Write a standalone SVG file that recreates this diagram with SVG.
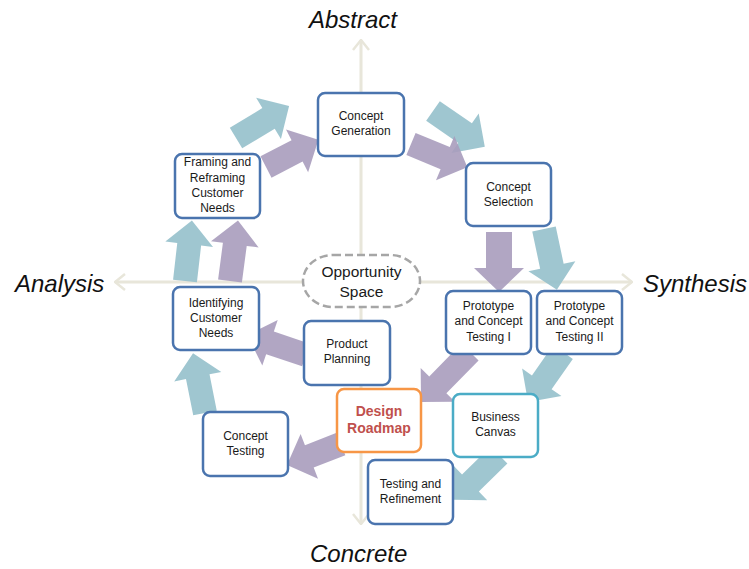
<svg xmlns="http://www.w3.org/2000/svg" width="749" height="569" viewBox="0 0 749 569">
  <style>
    .axis { stroke: #E8E6DA; stroke-width: 3; fill: none; }
    .axis-label { font-family: "Liberation Sans", Arial, sans-serif; font-style: italic; font-size: 24px; fill: #111; }
    .teal { fill: #95C0CB; fill-opacity: 0.9; }
    .purple { fill: #A99CBD; fill-opacity: 0.9; }
    .box { fill: #fff; stroke: #4A74AE; stroke-width: 2.5; }
    .box-canvas { fill: #fff; stroke: #4BACC6; stroke-width: 2.5; }
    .box-roadmap { fill: #fff; stroke: #F79646; stroke-width: 2.5; }
    .label { font-family: "Liberation Sans", Arial, sans-serif; font-size: 12px; fill: #1A1A1A; text-anchor: middle; }
    .label-roadmap { font-family: "Liberation Sans", Arial, sans-serif; font-size: 14px; font-weight: bold; fill: #C0504D; text-anchor: middle; }
    .space { fill: #fff; stroke: #A6A6A6; stroke-width: 2.5; stroke-dasharray: 8 4; }
    .label-space { font-family: "Liberation Sans", Arial, sans-serif; font-size: 15.5px; fill: #1A1A1A; text-anchor: middle; }
  </style>
  <defs>
    <marker id="axisHead" viewBox="0 0 12 18" refX="11" refY="9" markerWidth="12" markerHeight="18" orient="auto-start-reverse" markerUnits="userSpaceOnUse">
      <path d="M1,1 L11,9 L1,17" fill="none" stroke="#E8E6DA" stroke-width="2.5"/>
    </marker>
  </defs>

  <rect width="749" height="569" fill="#fff"/>

  <!-- axes -->
  <g id="axes">
    <line class="axis" x1="361" y1="524" x2="361" y2="40" marker-start="url(#axisHead)" marker-end="url(#axisHead)"/>
    <line class="axis" x1="115" y1="282" x2="632" y2="282" marker-start="url(#axisHead)" marker-end="url(#axisHead)"/>
    <text class="axis-label" x="309" y="28">Abstract</text>
    <text class="axis-label" x="15" y="292">Analysis</text>
    <text class="axis-label" x="643" y="292">Synthesis</text>
    <text class="axis-label" x="310" y="562">Concrete</text>
  </g>

  <!-- block-arrow connectors; each polygon points along +x from its tail -->
  <g id="connectors">
    <polygon class="teal" transform="translate(236,138) rotate(-31.1)" points="0,-12 38,-12 38,-24 62,0 38,24 38,12 0,12"/>
    <polygon class="purple" transform="translate(266,167) rotate(-27.4)" points="0,-12 35,-12 35,-24 59,0 35,24 35,12 0,12"/>
    <polygon class="teal" transform="translate(433,111) rotate(34.7)" points="0,-12 39,-12 39,-24 63,0 39,24 39,12 0,12"/>
    <polygon class="purple" transform="translate(411,144) rotate(22.5)" points="0,-12 37,-12 37,-24 61,0 37,24 37,12 0,12"/>
    <polygon class="purple" transform="translate(499,232) rotate(90)" points="0,-13 36,-13 36,-25 60,0 36,25 36,13 0,13"/>
    <polygon class="teal" transform="translate(544,229) rotate(78)" points="0,-12 38,-12 38,-24 62,0 38,24 38,12 0,12"/>
    <polygon class="teal" transform="translate(185,281) rotate(-83.5)" points="0,-12 37,-12 37,-24 61,0 37,24 37,12 0,12"/>
    <polygon class="purple" transform="translate(230,281) rotate(-82.5)" points="0,-12 37,-12 37,-24 61,0 37,24 37,12 0,12"/>
    <polygon class="purple" transform="translate(306,355) rotate(-161.3)" points="0,-12 38,-12 38,-24 62,0 38,24 38,12 0,12"/>
    <polygon class="teal" transform="translate(205,413) rotate(-101.3)" points="0,-12 37,-12 37,-24 61,0 37,24 37,12 0,12"/>
    <polygon class="purple" transform="translate(470,352) rotate(134.4)" points="0,-12 46,-12 46,-24 70,0 46,24 46,12 0,12"/>
    <polygon class="teal" transform="translate(563,352) rotate(125)" points="0,-12 37,-12 37,-24 61,0 37,24 37,12 0,12"/>
    <polygon class="teal" transform="translate(499,455) rotate(135.6)" points="0,-12 40,-12 40,-24 64,0 40,24 40,12 0,12"/>
    <polygon class="purple" transform="translate(341,444) rotate(158.7)" points="0,-12 34,-12 34,-24 58,0 34,24 34,12 0,12"/>
  </g>

  <!-- nodes -->
  <g id="opportunity-space">
    <rect class="space" x="303" y="255" width="117" height="52" rx="30" ry="26"/>
    <text class="label-space" x="361.5" y="277">Opportunity</text>
    <text class="label-space" x="361.5" y="297">Space</text>
  </g>

  <g id="concept-generation">
    <rect class="box" x="318" y="93" width="86" height="63" rx="7"/>
    <text class="label" x="361" y="120">Concept</text>
    <text class="label" x="361" y="135">Generation</text>
  </g>

  <g id="concept-selection">
    <rect class="box" x="466" y="163" width="85" height="63" rx="7"/>
    <text class="label" x="508.5" y="191">Concept</text>
    <text class="label" x="508.5" y="206">Selection</text>
  </g>

  <g id="framing-needs">
    <rect class="box" x="175" y="154" width="85" height="64" rx="7"/>
    <text class="label" x="217.5" y="166">Framing and</text>
    <text class="label" x="217.5" y="182">Reframing</text>
    <text class="label" x="217.5" y="197">Customer</text>
    <text class="label" x="217.5" y="212">Needs</text>
  </g>

  <g id="identifying-needs">
    <rect class="box" x="173" y="287" width="86" height="63" rx="7"/>
    <text class="label" x="216" y="307">Identifying</text>
    <text class="label" x="216" y="322">Customer</text>
    <text class="label" x="216" y="337">Needs</text>
  </g>

  <g id="product-planning">
    <rect class="box" x="304" y="321" width="86" height="64" rx="7"/>
    <text class="label" x="347" y="348">Product</text>
    <text class="label" x="347" y="363">Planning</text>
  </g>

  <g id="prototype-testing-1">
    <rect class="box" x="446" y="291" width="85" height="63" rx="7"/>
    <text class="label" x="488.5" y="310">Prototype</text>
    <text class="label" x="488.5" y="325">and Concept</text>
    <text class="label" x="488.5" y="341">Testing I</text>
  </g>

  <g id="prototype-testing-2">
    <rect class="box" x="537" y="291" width="85" height="63" rx="7"/>
    <text class="label" x="579.5" y="310">Prototype</text>
    <text class="label" x="579.5" y="325">and Concept</text>
    <text class="label" x="579.5" y="341">Testing II</text>
  </g>

  <g id="business-canvas">
    <rect class="box-canvas" x="453" y="394" width="85" height="63" rx="7"/>
    <text class="label" x="495.5" y="421">Business</text>
    <text class="label" x="495.5" y="436">Canvas</text>
  </g>

  <g id="design-roadmap">
    <rect class="box-roadmap" x="337" y="389" width="84" height="63" rx="7"/>
    <text class="label-roadmap" x="379" y="416">Design</text>
    <text class="label-roadmap" x="379" y="433">Roadmap</text>
  </g>

  <g id="concept-testing">
    <rect class="box" x="203" y="412" width="85" height="64" rx="7"/>
    <text class="label" x="245.5" y="440">Concept</text>
    <text class="label" x="245.5" y="455">Testing</text>
  </g>

  <g id="testing-refinement">
    <rect class="box" x="368" y="460" width="85" height="64" rx="7"/>
    <text class="label" x="410.5" y="488">Testing and</text>
    <text class="label" x="410.5" y="503">Refinement</text>
  </g>
</svg>
